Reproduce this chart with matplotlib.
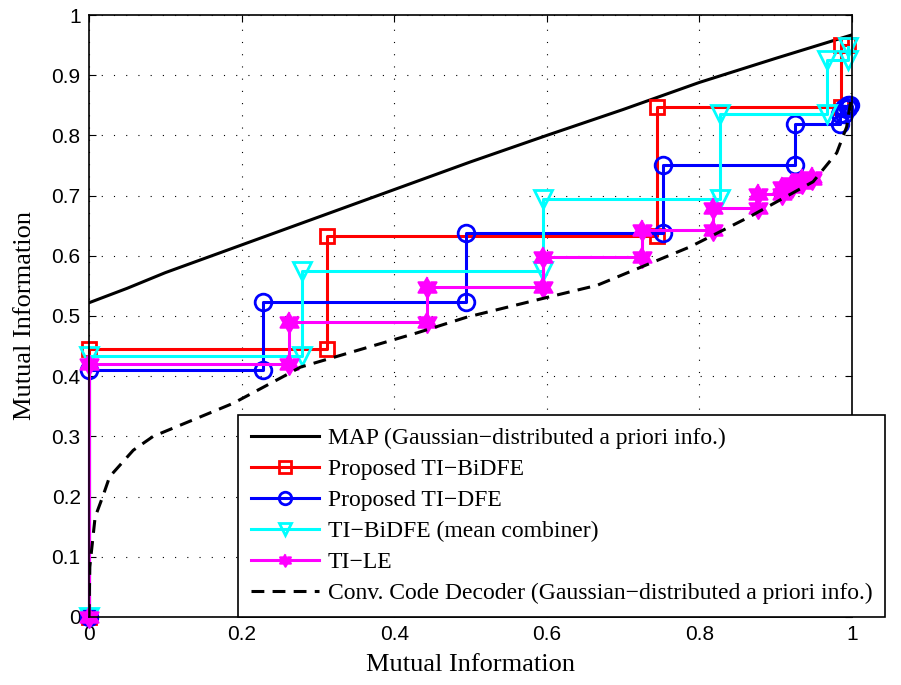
import numpy as np
import matplotlib.pyplot as plt

plt.rcParams['font.family'] = ['Liberation Serif', 'DejaVu Serif']

# MAP equaliser curve (Gaussian a priori info)
map_x = [0.0, 0.05, 0.1, 0.2, 0.3, 0.4, 0.5, 0.6, 0.7, 0.8, 0.9, 1.0]
map_y = [0.522, 0.546, 0.572, 0.618, 0.664, 0.710, 0.756, 0.800, 0.843, 0.888, 0.928, 0.967]

# conv. code decoder curve
dec_x = [0.0, 0.001, 0.008, 0.018, 0.027, 0.058, 0.084, 0.189, 0.254, 0.277, 0.43,
         0.495, 0.604, 0.666, 0.788, 0.866, 0.949, 0.98, 0.993, 1.0]
dec_y = [0.0, 0.083, 0.166, 0.2, 0.233, 0.277, 0.300, 0.355, 0.399, 0.415, 0.472,
         0.498, 0.532, 0.551, 0.615, 0.665, 0.723, 0.771, 0.814, 0.87]

# trajectories
bidfe_x = [0, 0, 0.312, 0.312, 0.745, 0.745, 0.985, 0.985, 0.995]
bidfe_y = [0, 0.445, 0.445, 0.633, 0.633, 0.847, 0.847, 0.950, 0.950]

dfe_x = [0, 0, 0.228, 0.228, 0.494, 0.494, 0.752, 0.752, 0.925, 0.925,
         0.984, 0.984, 0.990, 0.990, 0.995, 0.995, 0.997]
dfe_y = [0, 0.41, 0.41, 0.523, 0.523, 0.638, 0.638, 0.750, 0.750, 0.819,
         0.819, 0.835, 0.835, 0.845, 0.845, 0.851, 0.851]

mean_x = [0, 0, 0.279, 0.279, 0.595, 0.595, 0.827, 0.827, 0.967, 0.967, 0.995, 0.995]
mean_y = [0, 0.433, 0.433, 0.574, 0.574, 0.695, 0.695, 0.835, 0.835, 0.925, 0.925, 0.947]

le_x = [0, 0, 0.262, 0.262, 0.443, 0.443, 0.595, 0.595, 0.725, 0.725, 0.818,
        0.818, 0.877, 0.877, 0.908, 0.908, 0.922, 0.922, 0.935, 0.935, 0.947, 0.947]
le_y = [0, 0.42, 0.42, 0.49, 0.49, 0.548, 0.548, 0.598, 0.598, 0.643, 0.643,
        0.679, 0.679, 0.703, 0.703, 0.714, 0.714, 0.721, 0.721, 0.727, 0.727, 0.731]

labels = ['MAP (Gaussian\u2212distributed a priori info.)',
          'Proposed TI\u2212BiDFE',
          'Proposed TI\u2212DFE',
          'TI\u2212BiDFE (mean combiner)',
          'TI\u2212LE',
          'Conv. Code Decoder (Gaussian\u2212distributed a priori info.)']

# matlab-style hexagram (star of david outline)
ang = np.pi / 2 + np.arange(12) * np.pi / 6
rad = np.where(np.arange(12) % 2 == 0, 1.0, 1 / np.sqrt(3))
hexagram = list(zip(rad * np.cos(ang), rad * np.sin(ang)))

fig = plt.figure(figsize=(9.01, 6.85), dpi=100)
ax = fig.add_axes([0.0988, 0.0993, 0.8468, 0.8788])

ax.plot(map_x, map_y, color='black', lw=2.2, label=labels[0])
ax.plot(bidfe_x, bidfe_y, color='red', lw=2.2, marker='s', ms=9.5, mfc='none',
        mew=2, label=labels[1], clip_on=False)
ax.plot(dfe_x, dfe_y, color='blue', lw=2.2, marker='o', ms=12, mfc='none',
        mew=2, label=labels[2], clip_on=False)
ax.plot(mean_x, mean_y, color='cyan', lw=2.2, marker='v', ms=13, mfc='none',
        mew=2, label=labels[3], clip_on=False)
ax.plot(le_x, le_y, color='magenta', lw=2.2, marker=hexagram, ms=15, mfc='magenta',
        mew=1.5, label=labels[4], clip_on=False)
ax.plot(dec_x, dec_y, color='black', lw=2.2, ls=(0, (4.2, 2.7)), label=labels[5])

ax.set_xlim(0, 1)
ax.set_ylim(0, 1)
ax.set_xticks(np.arange(0, 1.01, 0.2))
ax.set_xticklabels(['0', '0.2', '0.4', '0.6', '0.8', '1'])
ax.set_yticks(np.arange(0, 1.01, 0.1))
ax.set_yticklabels(['0', '0.1', '0.2', '0.3', '0.4', '0.5', '0.6', '0.7', '0.8', '0.9', '1'])
ax.tick_params(direction='in', top=True, right=True, length=5, labelsize=15,
               labelfontfamily='Liberation Sans', pad=6)
ax.grid(True, color='black', lw=0.8, ls=(0, (1, 10)))
for s in ax.spines.values():
    s.set_linewidth(1.2)

ax.set_xlabel('Mutual Information', fontsize=19, labelpad=7)
ax.set_ylabel('Mutual Information', fontsize=19, labelpad=11)

leg = ax.legend(loc='lower left', bbox_to_anchor=(238 / 901, 68 / 685),
                bbox_transform=fig.transFigure, fontsize=17, handlelength=2.9,
                handletextpad=0.35, fancybox=False, framealpha=1,
                edgecolor='black', borderpad=0.55, labelspacing=0.4,
                borderaxespad=0)
leg.get_frame().set_linewidth(1.2)
for h in leg.legend_handles:
    h.set_markersize(9)

fig.savefig('out.png', dpi=100)
